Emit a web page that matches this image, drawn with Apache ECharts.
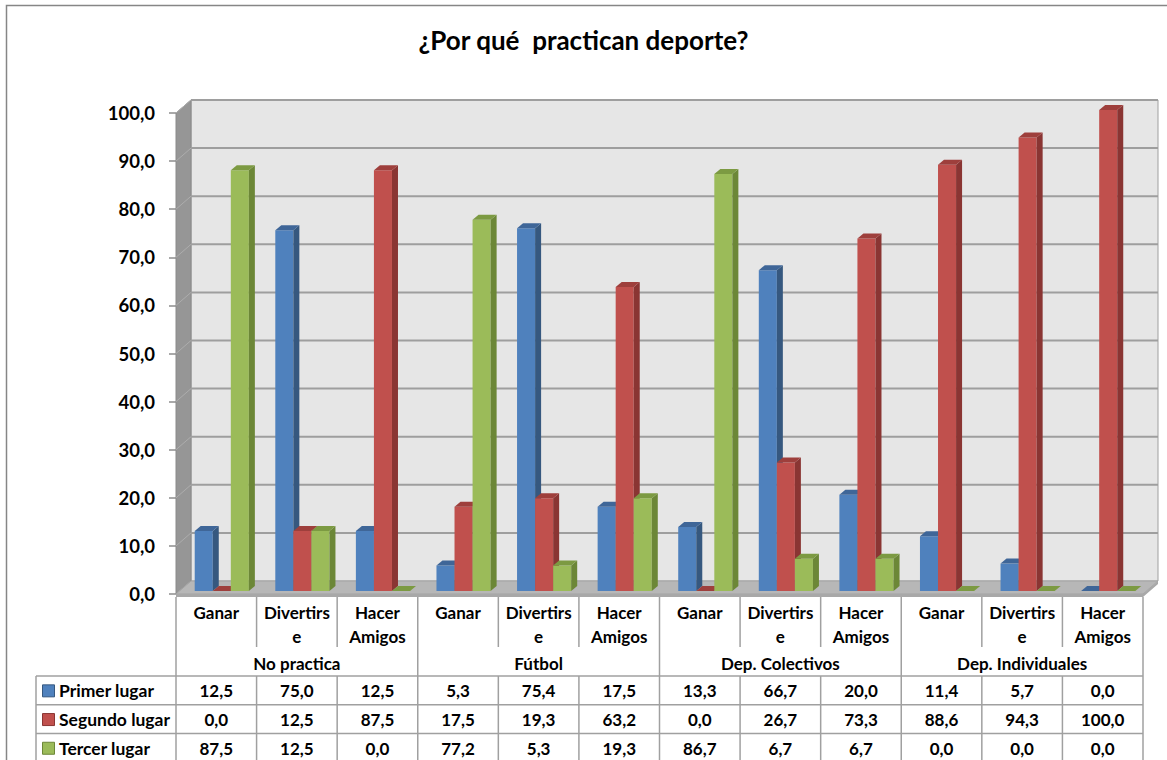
<!DOCTYPE html>
<html>
<head>
<meta charset="utf-8">
<script src="https://cdn.jsdelivr.net/npm/echarts@6/dist/echarts.min.js"></script>
<style>
  html, body { margin: 0; padding: 0; background: #fff; }
  #chart { width: 1167px; height: 760px; }
</style>
</head>
<body>
<div id="chart"></div>
<script>
// ---- data ----
const groups = ['No practica', 'Fútbol', 'Dep. Colectivos', 'Dep. Individuales'];
const reasons = ['Ganar', 'Divertirs\ne', 'Hacer\nAmigos'];
const seriesNames = ['Primer lugar', 'Segundo lugar', 'Tercer lugar'];
const primerLugar  = [12.5, 75.0, 12.5, 5.3, 75.4, 17.5, 13.3, 66.7, 20.0, 11.4, 5.7, 0.0];
const segundoLugar = [0.0, 12.5, 87.5, 17.5, 19.3, 63.2, 0.0, 26.7, 73.3, 88.6, 94.3, 100.0];
const tercerLugar  = [87.5, 12.5, 0.0, 77.2, 5.3, 19.3, 86.7, 6.7, 6.7, 0.0, 0.0, 0.0];
const yTicks = [0, 10, 20, 30, 40, 50, 60, 70, 80, 90, 100];

// ---- style ----
const FONT = 'Lato, "Open Sans", sans-serif';
const palette = [
  { front: '#4F81BD', side: '#36587F', top: '#3F6698' },
  { front: '#C0504D', side: '#8A3533', top: '#9E3F3C' },
  { front: '#9BBB59', side: '#6C8737', top: '#7C9A42' }
];
const WALL_DX = 15, WALL_DY = -13;   // depth of the back wall
const BAR_DX = 6, BAR_DY = -5;       // depth of each column
const BAR_SHIFT_X = 5.5, BAR_SHIFT_Y = -3;
const BAR_RATIO = 0.224;

const categoryKeys = [];
groups.forEach(g => reasons.forEach(r => categoryKeys.push(g + '|' + r)));
const fmt = v => v.toFixed(1).replace('.', ',');

const chart = echarts.init(document.getElementById('chart'), null, { renderer: 'svg' });

function wallRenderer(params, api) {
  const cs = params.coordSys;
  const x0 = cs.x, x1 = cs.x + cs.width;
  const y0 = api.coord([0, 0])[1];
  const yT = api.coord([0, 100])[1];
  const children = [];
  // back wall
  children.push({ type: 'polygon', shape: { points: [[x0 + WALL_DX, yT + WALL_DY], [x1 + WALL_DX, yT + WALL_DY], [x1 + WALL_DX, y0 + WALL_DY], [x0 + WALL_DX, y0 + WALL_DY]] },
    style: { fill: '#E6E6E6', stroke: '#A0A0A0', lineWidth: 1 } });
  // side wall
  children.push({ type: 'polygon', shape: { points: [[x0, yT], [x0 + WALL_DX, yT + WALL_DY], [x0 + WALL_DX, y0 + WALL_DY], [x0, y0]] },
    style: { fill: '#969696', stroke: '#8A8A8A', lineWidth: 1 } });
  // gridlines on back and side walls
  yTicks.forEach(t => {
    const y = api.coord([0, t])[1];
    if (t > 0) {
      children.push({ type: 'line', shape: { x1: x0 + WALL_DX, y1: y + WALL_DY, x2: x1 + WALL_DX, y2: y + WALL_DY },
        style: { stroke: '#9E9E9E', lineWidth: 2 } });
    }
    children.push({ type: 'line', shape: { x1: x0, y1: y, x2: x0 + WALL_DX, y2: y + WALL_DY },
      style: { stroke: '#ADADAD', lineWidth: 1 } });
  });
  // floor with a thin front edge
  children.push({ type: 'polygon', shape: { points: [[x0, y0], [x0 + WALL_DX, y0 + WALL_DY], [x1 + WALL_DX, y0 + WALL_DY], [x1, y0]] },
    style: { fill: '#B7B7B7', stroke: '#A3A3A3', lineWidth: 1 } });
  children.push({ type: 'polygon', shape: { points: [[x0, y0], [x1, y0], [x1 + WALL_DX, y0 + WALL_DY], [x1 + WALL_DX, y0 + WALL_DY + 3], [x1, y0 + 3], [x0, y0 + 3]] },
    style: { fill: '#A8A8A8' } });
  return { type: 'group', children };
}

function barRenderer(k) {
  const c = palette[k];
  return function (params, api) {
    const i = api.value(0), v = api.value(1);
    const base = api.coord([i, 0]);
    const tp = api.coord([i, v]);
    const bw = api.size([1, 0])[0] * BAR_RATIO;
    const left = base[0] + BAR_SHIFT_X + (k - 1.5) * bw;
    const right = left + bw;
    const bottom = base[1] + BAR_SHIFT_Y;
    const top = tp[1] + BAR_SHIFT_Y;
    const children = [];
    if (bottom - top > 0.2) {
      children.push({ type: 'rect', shape: { x: left, y: top, width: bw, height: bottom - top }, style: { fill: c.front } });
      children.push({ type: 'polygon', shape: { points: [[right, top], [right + BAR_DX, top + BAR_DY], [right + BAR_DX, bottom + BAR_DY], [right, bottom]] }, style: { fill: c.side } });
    }
    children.push({ type: 'polygon', shape: { points: [[left, top], [left + BAR_DX, top + BAR_DY], [right + BAR_DX, top + BAR_DY], [right, top]] }, style: { fill: c.top } });
    return { type: 'group', children };
  };
}

const valueSets = [primerLugar, segundoLugar, tercerLugar];

chart.setOption({
  animation: false,
  title: {
    text: '¿Por qué  practican deporte?',
    left: 'center', top: 22,
    textStyle: { fontFamily: FONT, fontSize: 26, fontWeight: 'bold', color: '#000' }
  },
  grid: { left: 176, right: 24, top: 113, bottom: 166 },
  xAxis: {
    type: 'category', data: categoryKeys,
    axisLine: { show: false }, axisTick: { show: false }, splitLine: { show: false },
    axisLabel: {
      interval: 0, margin: 6,
      formatter: v => v.split('|')[1],
      fontFamily: FONT, fontSize: 17, fontWeight: 'bold', color: '#000', lineHeight: 24
    }
  },
  yAxis: {
    type: 'value', min: 0, max: 100, interval: 10,
    axisLine: { show: false },
    axisTick: { show: true, length: 7, lineStyle: { color: '#8C8C8C', width: 1.5 } },
    splitLine: { show: false },
    axisLabel: { margin: 21, formatter: fmt, fontFamily: FONT, fontSize: 18.5, fontWeight: 'bold', color: '#000' }
  },
  series: [
    { type: 'custom', name: 'walls', z: 1, silent: true, renderItem: wallRenderer, data: [[0, 0]], encode: { x: 0, y: 1 } }
  ].concat(valueSets.map((vals, k) => ({
    type: 'custom', name: seriesNames[k], z: 2 + k,
    itemStyle: { color: palette[k].front },
    renderItem: barRenderer(k),
    encode: { x: 0, y: 1 },
    data: vals.map((v, i) => [i, v])
  })))
});

// ---- data table under the plot, with the series keys in its first column ----
function buildTable() {
  const grid = chart.getModel().getComponent('grid').coordinateSystem.getRect();
  const x0 = grid.x, x1 = grid.x + grid.width;
  const colW = grid.width / categoryKeys.length;
  const yFloor = grid.y + grid.height + 3;
  const yCatEnd = 647, yRows = 676, rowH = 28.7;
  const legendLeft = 36;
  const lineStyle = { stroke: '#A0A0A0', lineWidth: 1.5 };
  const els = [];
  const line = (xa, ya, xb, yb) => els.push({ type: 'line', shape: { x1: xa, y1: ya, x2: xb, y2: yb }, style: lineStyle, silent: true });
  const txt = (text, x, y, size, align) => els.push({ type: 'text', x, y, silent: true,
    style: { text, fill: '#000', font: 'bold ' + size + 'px ' + FONT, align: align || 'center', verticalAlign: 'middle' } });

  // verticals
  for (let c = 0; c <= categoryKeys.length; c++) {
    const x = x0 + c * colW;
    if (c % reasons.length === 0) line(x, yFloor, x, 765);
    else { line(x, yFloor, x, yCatEnd); line(x, yRows, x, 765); }
  }
  line(legendLeft, yRows, legendLeft, 765);
  // horizontals
  for (let r = 0; r <= 3; r++) line(legendLeft, yRows + r * rowH, x1, yRows + r * rowH);

  // group labels
  groups.forEach((g, gi) => {
    const cx = x0 + (gi * reasons.length + reasons.length / 2) * colW;
    txt(g, cx, 663, 17);
  });
  // series keys and values
  valueSets.forEach((vals, r) => {
    const cy = yRows + r * rowH + rowH / 2 + 0.5;
    els.push({ type: 'rect', silent: true, shape: { x: 42.5, y: cy - 6, width: 12, height: 12 },
      style: { fill: palette[r].front, stroke: palette[r].side, lineWidth: 1 } });
    txt(seriesNames[r], 59, cy, 17.5, 'left');
    vals.forEach((v, i) => {
      const cx = chart.convertToPixel({ xAxisIndex: 0 }, i);
      txt(fmt(v), cx, cy, 17);
    });
  });
  // outer frame
  els.push({ type: 'rect', shape: { x: 6.5, y: 5.5, width: 1200, height: 800 }, style: { fill: 'none', stroke: '#868686', lineWidth: 1.5 }, silent: true, z: 100 });
  chart.setOption({ graphic: { elements: els } });
}
buildTable();
</script>
</body>
</html>
